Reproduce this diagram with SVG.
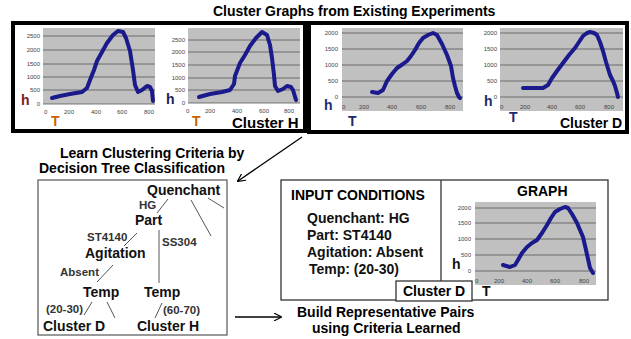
<svg xmlns="http://www.w3.org/2000/svg" width="631" height="339" viewBox="0 0 631 339">
<defs>
<marker id="arr" viewBox="0 0 10 10" refX="9" refY="5" markerWidth="8" markerHeight="8" markerUnits="userSpaceOnUse" orient="auto">
<path d="M0,0 L10,5 L0,10" fill="none" stroke="#000" stroke-width="1.5"/>
</marker>
<style>
text{font-family:"Liberation Sans",Arial,sans-serif}
.t{font-size:14px;font-weight:bold;fill:#000}
.n{font-size:14px;font-weight:bold;fill:#111}
.e{font-size:11.5px;font-weight:bold;fill:#333}
.tk{font-size:6px;fill:#444}
.tkr{font-size:6px;fill:#444;text-anchor:end}
.plot{fill:#c0c0c0}
.grid{stroke:#555;stroke-width:0.8}
.curve{fill:none;stroke:#1a1a8c;stroke-width:4;stroke-linejoin:round;stroke-linecap:round}
.frame{fill:#fff;stroke:#000;stroke-width:4}
.h{font-size:14px;font-weight:bold}
.tl{stroke:#555;stroke-width:1}
.ar{stroke:#000;stroke-width:1.3;fill:none}
</style>
</defs>
<rect width="631" height="339" fill="#fff"/>

<text class="t" x="213" y="16">Cluster Graphs from Existing Experiments</text>

<g id="clusterH">
<rect class="frame" x="13" y="23" width="292" height="108"/>
<!-- graph 1 -->
<rect class="plot" x="43" y="28" width="112" height="76"/>
<g class="grid">
<line x1="43" y1="36" x2="155" y2="36"/><line x1="43" y1="50" x2="155" y2="50"/>
<line x1="43" y1="64" x2="155" y2="64"/><line x1="43" y1="77" x2="155" y2="77"/>
<line x1="43" y1="90" x2="155" y2="90"/><line x1="43" y1="104" x2="155" y2="104"/>
</g>
<text class="tkr" x="40" y="38">2500</text><text class="tkr" x="40" y="52">2000</text>
<text class="tkr" x="40" y="66">1500</text><text class="tkr" x="40" y="79">1000</text>
<text class="tkr" x="40" y="92">500</text><text class="tkr" x="40" y="106">0</text>
<text class="tk" x="44" y="114">0</text><text class="tk" x="64" y="114">200</text>
<text class="tk" x="91" y="114">400</text><text class="tk" x="117" y="114">600</text>
<text class="tk" x="144" y="114">800</text>
<text class="h" x="21" y="105" fill="#7a2020">h</text>
<text class="h" x="51" y="126" fill="#c86400">T</text>
<polyline class="curve" points="52,98 60,96 70,94 82,92 87,88 90,80 94,70 97,61 102,52 107,43 113,35 118,31 123,32 126,38 130,51 133,70 135,85 138,92 142,90 147,86 150,87 152,91 153,101"/>
<!-- graph 2 -->
<rect class="plot" x="188" y="28" width="112" height="75"/>
<g class="grid">
<line x1="188" y1="40" x2="300" y2="40"/><line x1="188" y1="52" x2="300" y2="52"/>
<line x1="188" y1="65" x2="300" y2="65"/><line x1="188" y1="78" x2="300" y2="78"/>
<line x1="188" y1="90" x2="300" y2="90"/><line x1="188" y1="103" x2="300" y2="103"/>
</g>
<text class="tkr" x="185" y="42">2500</text><text class="tkr" x="185" y="54">2000</text>
<text class="tkr" x="185" y="67">1500</text><text class="tkr" x="185" y="80">1000</text>
<text class="tkr" x="185" y="92">500</text><text class="tkr" x="185" y="105">0</text>
<text class="tk" x="186" y="113">0</text><text class="tk" x="205" y="113">200</text>
<text class="tk" x="232" y="113">400</text><text class="tk" x="259" y="113">600</text>
<text class="tk" x="284" y="113">800</text>
<text class="h" x="166" y="104" fill="#1c1c50">h</text>
<text class="h" x="192" y="126" fill="#c86400">T</text>
<polyline class="curve" points="199,97 210,94 222,92 230,90 234,84 235,76 240,63 245,55 250,46 256,38 262,32 267,35 270,45 272,58 274,75 275,86 278,91 283,89 287,86 291,87 293,90 296,100"/>
<text class="t" x="232" y="128" style="font-size:15px">Cluster H</text>
</g>

<g id="clusterD">
<rect class="frame" x="309" y="23" width="318" height="109"/>
<!-- graph 3 -->
<rect class="plot" x="342" y="28" width="121" height="83"/>
<g class="grid">
<line x1="342" y1="33" x2="463" y2="33"/><line x1="342" y1="49" x2="463" y2="49"/>
<line x1="342" y1="65" x2="463" y2="65"/><line x1="342" y1="81" x2="463" y2="81"/>
<line x1="342" y1="97" x2="463" y2="97"/>
</g>
<text class="tkr" x="338" y="35">2000</text><text class="tkr" x="338" y="51">1500</text>
<text class="tkr" x="338" y="67">1000</text><text class="tkr" x="338" y="83">500</text>
<text class="tkr" x="338" y="99">0</text>
<text class="tk" x="342" y="109">0</text><text class="tk" x="359" y="109">200</text>
<text class="tk" x="387" y="109">400</text><text class="tk" x="416" y="109">600</text>
<text class="tk" x="445" y="109">800</text>
<text class="h" x="324" y="110" fill="#1c2a6b">h</text>
<text class="h" x="348" y="126" fill="#1c2a6b">T</text>
<polyline class="curve" points="372,92 378,93 383,90 387,81 392,74 397,68 403,64 407,61 411,56 415,50 419,43 423,38 428,35 433,33 437,35 442,44 447,55 451,66 453,78 455,86 457,93 459,97 460,98"/>
<!-- graph 4 -->
<rect class="plot" x="500" y="28" width="123" height="83"/>
<g class="grid">
<line x1="500" y1="33" x2="623" y2="33"/><line x1="500" y1="49" x2="623" y2="49"/>
<line x1="500" y1="65" x2="623" y2="65"/><line x1="500" y1="81" x2="623" y2="81"/>
<line x1="500" y1="97" x2="623" y2="97"/>
</g>
<text class="tkr" x="497" y="35">2000</text><text class="tkr" x="497" y="51">1500</text>
<text class="tkr" x="497" y="67">1000</text><text class="tkr" x="497" y="83">500</text>
<text class="tkr" x="497" y="99">0</text>
<text class="tk" x="500" y="109">0</text><text class="tk" x="520" y="109">200</text>
<text class="tk" x="547" y="109">400</text><text class="tk" x="575" y="109">600</text>
<text class="tk" x="604" y="109">800</text>
<text class="h" x="484" y="106" fill="#1c2a6b">h</text>
<text class="h" x="509" y="122" fill="#1c2a6b">T</text>
<polyline class="curve" points="523,88 533,88 543,88 548,85 552,78 557,71 563,63 569,55 575,48 579,42 583,36 587,33 590,32 594,33 597,35 600,42 603,51 606,62 610,75 613,81 615,86 617,93 618,97"/>
<text class="t" x="560" y="128">Cluster D</text>
</g>

<g id="connectors">
<line class="ar" x1="302" y1="137" x2="238" y2="181" marker-end="url(#arr)"/>
<line class="ar" x1="235" y1="317" x2="281" y2="317" marker-end="url(#arr)"/>
</g>

<g id="tree">
<text class="t" x="60" y="158">Learn Clustering Criteria by</text>
<text class="t" x="39" y="173">Decision Tree Classification</text>
<rect x="38" y="180" width="189" height="155" fill="#fff" stroke="#555" stroke-width="1.2"/>
<g class="tl">
<line x1="168" y1="199" x2="157" y2="213"/>
<line x1="191" y1="200" x2="211" y2="236"/>
<line x1="208" y1="198" x2="224" y2="208"/>
<line x1="137" y1="233" x2="124" y2="246"/>
<line x1="159" y1="230" x2="159" y2="283"/>
<line x1="113" y1="265" x2="97" y2="282"/>
<line x1="92" y1="302" x2="84" y2="315"/>
<line x1="107" y1="302" x2="115" y2="318"/>
<line x1="162" y1="303" x2="155" y2="318"/>
</g>
<text class="n" x="147" y="195">Quenchant</text>
<text class="e" x="139" y="209">HG</text>
<text class="n" x="135" y="225">Part</text>
<text class="e" x="87" y="241">ST4140</text>
<text class="e" x="162" y="246">SS304</text>
<text class="n" x="85" y="258">Agitation</text>
<text class="e" x="60" y="276">Absent</text>
<text class="n" x="83" y="297">Temp</text>
<text class="n" x="144" y="297">Temp</text>
<text class="e" x="46" y="313">(20-30)</text>
<text class="e" x="163" y="314">(60-70)</text>
<text class="n" x="43" y="331">Cluster D</text>
<text class="n" x="137" y="331">Cluster H</text>
</g>

<g id="pair">
<text class="t" x="297" y="317">Build Representative Pairs</text>
<text class="t" x="312" y="333">using Criteria Learned</text>
<rect x="281" y="180" width="327" height="120" fill="#fff" stroke="#333" stroke-width="1.3"/>
<line x1="441" y1="180" x2="441" y2="281" stroke="#333" stroke-width="1.3"/>
<text class="t" x="291" y="200">INPUT CONDITIONS</text>
<text class="n" x="307" y="223">Quenchant: HG</text>
<text class="n" x="307" y="240">Part: ST4140</text>
<text class="n" x="307" y="257">Agitation: Absent</text>
<text class="n" x="309" y="274">Temp: (20-30)</text>
<text class="t" x="517" y="196">GRAPH</text>
<rect class="plot" x="475" y="202" width="121" height="83"/>
<g class="grid">
<line x1="475" y1="208" x2="596" y2="208"/><line x1="475" y1="223" x2="596" y2="223"/>
<line x1="475" y1="239" x2="596" y2="239"/><line x1="475" y1="255" x2="596" y2="255"/>
<line x1="475" y1="271" x2="596" y2="271"/>
</g>
<text class="tkr" x="471" y="210">2000</text><text class="tkr" x="471" y="225">1500</text>
<text class="tkr" x="471" y="241">1000</text><text class="tkr" x="471" y="257">500</text>
<text class="tkr" x="471" y="273">0</text>
<text class="tk" x="475" y="283">0</text><text class="tk" x="494" y="283">200</text>
<text class="tk" x="522" y="283">400</text><text class="tk" x="550" y="283">600</text>
<text class="tk" x="579" y="283">800</text>
<text class="h" x="452" y="269" fill="#111">h</text>
<text class="h" x="482" y="296" fill="#111">T</text>
<polyline class="curve" points="503,265 510,267 515,265 518,260 522,253 527,247 532,243 537,240 542,233 547,225 551,218 555,212 560,209 565,207 568,208 572,214 577,223 580,230 583,237 586,250 590,268 593,273"/>
<rect x="396" y="281" width="76" height="20" fill="#fff" stroke="#333" stroke-width="1.3"/>
<text class="t" x="403" y="296">Cluster D</text>
</g>
</svg>
